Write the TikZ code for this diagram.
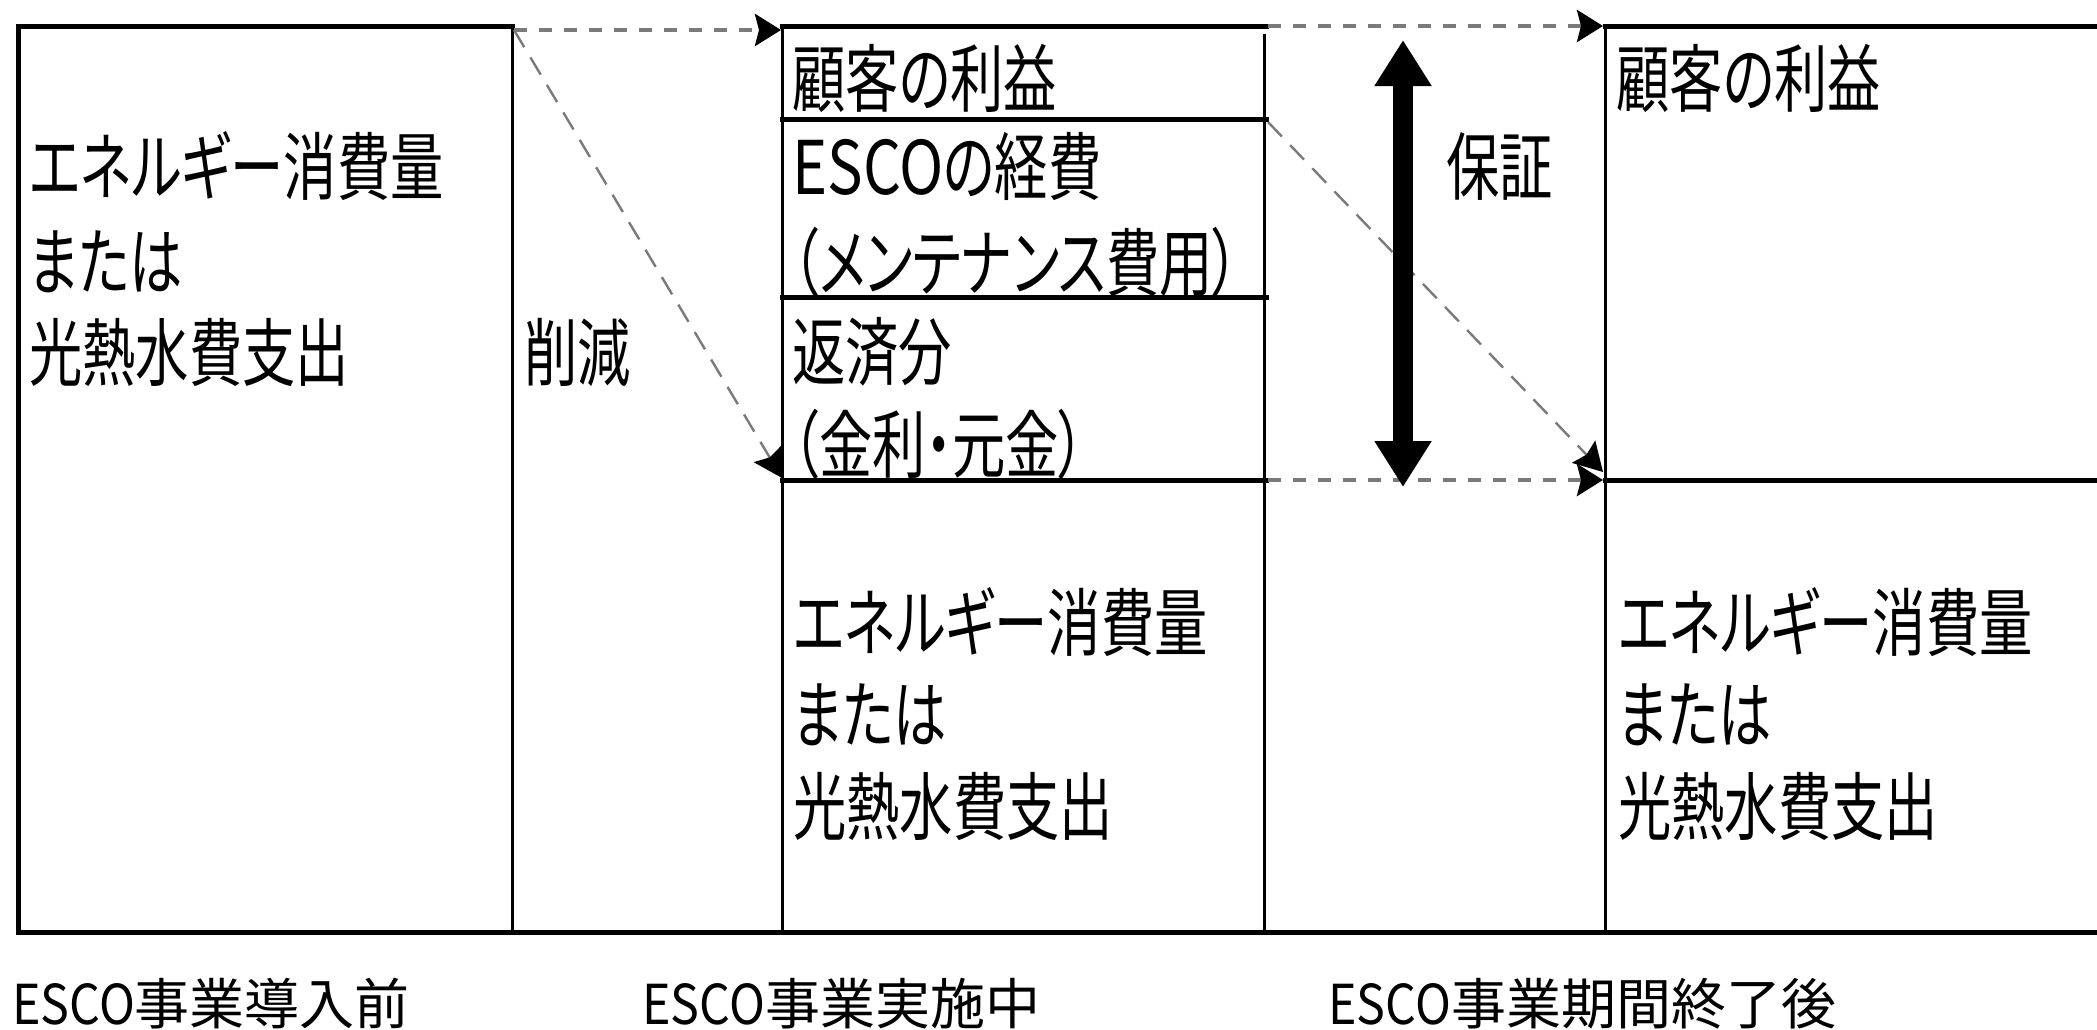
\documentclass[tikz,border=0pt]{standalone}
\usepackage{fontspec}
\usepackage{graphicx}
\usetikzlibrary{arrows.meta}
\newfontfamily\boxfont[FakeStretch=0.72,RawFeature={+palt}]{Noto Sans CJK JP}
\newfontfamily\capfont{Noto Sans CJK JP}
\newcommand\boxesco{\scalebox{1.12}[1]{ESCO}}
\newcommand\capesco{\scalebox{0.88}[1]{ESCO}}
\definecolor{dashgray}{rgb}{0.48,0.48,0.48}
\tikzset{
  lbl/.style={anchor=west,inner sep=0pt,font=\boxfont\fontsize{37pt}{40pt}\selectfont},
  captxt/.style={anchor=west,inner sep=0pt,font=\capfont\fontsize{27.5pt}{31pt}\selectfont},
  hline/.style={line width=2.5pt,line cap=rect},
  vline/.style={line width=1.5pt},
  vthick/.style={line width=2.5pt},
  hdash/.style={draw=dashgray,line width=2.2pt,dash pattern=on 6.5pt off 6pt,
    -{Stealth[length=13pt,width=16pt,inset=2pt,black]}},
  ddash/.style={draw=dashgray,line width=1.2pt,dash pattern=on 10pt off 6pt,
    -{Stealth[length=14pt,width=16pt,inset=2pt,black]}},
  bigarrow/.style={line width=10pt,{Triangle[length=23pt,width=27pt]}-{Triangle[length=23pt,width=27pt]}}
}
\begin{document}
\begin{tikzpicture}[x=0.5pt,y=-0.5pt]
\useasboundingbox (0,0) rectangle (2097,1029);
% frame
\draw[hline] (18,26) -- (512,26);
\draw[hline] (782,26) -- (1266,26);
\draw[hline] (1605,26) -- (2097,26);
\draw[hline] (18,932) -- (2097,932);
\draw[vthick] (18,26) -- (18,932);
\draw[vline] (512,26) -- (512,932);
\draw[vline] (782,26) -- (782,932);
\draw[vline] (1264,34) -- (1264,932);
\draw[vline] (1605,26) -- (1605,932);
\draw[hline] (782,119) -- (1266,119);
\draw[hline] (782,297) -- (1266,297);
\draw[hline] (782,480) -- (1266,480);
\draw[hline] (1605,480) -- (2097,480);
% anchor coordinates for connectors
\coordinate (cutL) at (514,30);
\coordinate (topM) at (781,30);
\coordinate (botM) at (782,478);
\coordinate (topMR) at (1268,26);
\coordinate (midMR) at (1268,122);
\coordinate (botMR) at (1268,480);
\coordinate (topR) at (1603,26);
\coordinate (diagR) at (1603,472);
\coordinate (botR) at (1603,480);
\coordinate (guarTop) at (1403,40);
\coordinate (guarBot) at (1403,487);
% dashed connectors
\draw[hdash] (cutL) -- (topM);
\draw[ddash] (cutL) -- (botM);
\draw[hdash] (topMR) -- (topR);
\draw[ddash] (midMR) -- (diagR);
\draw[hdash] (botMR) -- (botR);
\draw[bigarrow] (guarTop) -- (guarBot);
% left column
\node[lbl] (l1) at (29,166) {エネルギー消費量};
\node[lbl] (l2) at (29,262) {または};
\node[lbl] (l3) at (29,352) {光熱水費支出};
\node[lbl] (cut) at (524,352) {削減};
% middle column
\node[lbl] (m1) at (792,78) {顧客の利益};
\node[lbl] (m2) at (792,166) {\boxesco の経費};
\node[lbl] (m3) at (792,262) {（メンテナンス費用）};
\node[lbl] (m4) at (792,352) {返済分};
\node[lbl] (m5) at (792,444) {（金利・元金）};
\node[lbl] (m6) at (793,622) {エネルギー消費量};
\node[lbl] (m7) at (793,715) {または};
\node[lbl] (m8) at (793,806) {光熱水費支出};
% guarantee
\node[lbl] (g) at (1446,166) {保証};
% right column
\node[lbl] (r1) at (1616,78) {顧客の利益};
\node[lbl] (r2) at (1618,622) {エネルギー消費量};
\node[lbl] (r3) at (1618,715) {または};
\node[lbl] (r4) at (1618,806) {光熱水費支出};
% captions
\node[captxt] (c1) at (12,1004) {\capesco 事業導入前};
\node[captxt] (c2) at (642,1004) {\capesco 事業実施中};
\node[captxt] (c3) at (1328,1004) {\capesco 事業期間終了後};
\end{tikzpicture}
\end{document}
